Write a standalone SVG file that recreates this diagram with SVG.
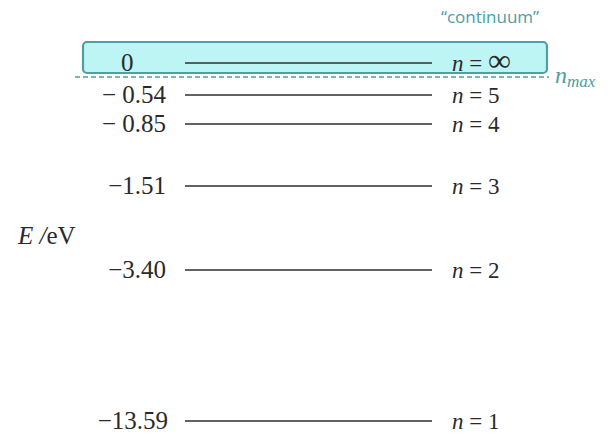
<svg xmlns="http://www.w3.org/2000/svg" width="611" height="435" viewBox="0 0 611 435">
<style>
.lvl{stroke:#2e2e2e;stroke-width:1.7}
.num{font-family:"Liberation Serif",serif;font-size:25px;fill:#2a2a2a}
.nlab{font-family:"Liberation Serif",serif;font-size:23px;fill:#2a2a2a}
.teal{fill:#4a9ea4}
</style>
<rect width="611" height="435" fill="#fff"/>
<g id="continuum">
<rect x="83" y="42" width="464" height="31" rx="4" fill="#bdf5f5" stroke="#4f9ea3" stroke-width="2.2"/>
<text x="441" y="23" font-family="'Open Sans',sans-serif" font-size="17" class="teal">“continuum”</text>
</g>
<g id="nmax">
<text x="555" y="83" font-family="'Liberation Serif',serif" font-size="24" class="teal"><tspan font-style="italic">n</tspan><tspan font-size="17" dy="4" font-style="italic">max</tspan></text>
</g>
<g id="axis">
<text x="18" y="244" class="num"><tspan font-style="italic">E</tspan>  <tspan font-style="italic">/</tspan>eV</text>
</g>
<g id="connectors">
<line x1="75" y1="77" x2="549" y2="77" stroke="#4f9ea3" stroke-width="1.5" stroke-dasharray="5,3"/>
</g>
<g id="level-inf">
<line class="lvl" x1="185" y1="63" x2="432" y2="63"/>
<text x="121" y="71" class="num">0</text>
<text x="452" y="71" class="nlab"><tspan font-style="italic">n</tspan> = <tspan font-size="32">∞</tspan></text>
</g>
<g id="level-5">
<line class="lvl" x1="185" y1="95" x2="432" y2="95"/>
<text x="166" y="103" class="num" text-anchor="end">− 0.54</text>
<text x="452" y="103" class="nlab"><tspan font-style="italic">n</tspan> = 5</text>
</g>
<g id="level-4">
<line class="lvl" x1="185" y1="124" x2="432" y2="124"/>
<text x="166" y="132" class="num" text-anchor="end">− 0.85</text>
<text x="452" y="132" class="nlab"><tspan font-style="italic">n</tspan> = 4</text>
</g>
<g id="level-3">
<line class="lvl" x1="185" y1="186" x2="432" y2="186"/>
<text x="166" y="194" class="num" text-anchor="end">−1.51</text>
<text x="452" y="194" class="nlab"><tspan font-style="italic">n</tspan> = 3</text>
</g>
<g id="level-2">
<line class="lvl" x1="185" y1="270" x2="432" y2="270"/>
<text x="166" y="278" class="num" text-anchor="end">−3.40</text>
<text x="452" y="278" class="nlab"><tspan font-style="italic">n</tspan> = 2</text>
</g>
<g id="level-1">
<line class="lvl" x1="185" y1="421" x2="432" y2="421"/>
<text x="168" y="429" class="num" text-anchor="end">−13.59</text>
<text x="452" y="429" class="nlab"><tspan font-style="italic">n</tspan> = 1</text>
</g>
</svg>
